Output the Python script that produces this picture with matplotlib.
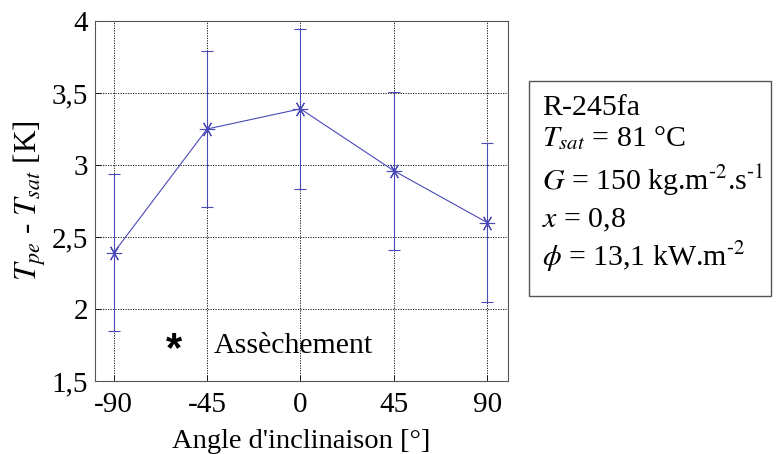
import numpy as np
import matplotlib
matplotlib.use('Agg')
import matplotlib.pyplot as plt
from matplotlib.patches import Rectangle

plt.rcParams['font.family'] = ['Liberation Serif', 'DejaVu Serif']
plt.rcParams['mathtext.fontset'] = 'stix'

# data
angles = [-90, -45, 0, 45, 90]
delta_t = [2.39, 3.25, 3.39, 2.96, 2.60]
err = [0.545, 0.545, 0.555, 0.55, 0.55]
xticks = [-90, -45, 0, 45, 90]
yticks = [1.5, 2, 2.5, 3, 3.5, 4]
ytick_labels = ['1,5', '2', '2,5', '3', '3,5', '4']
info_lines = ['R-245fa',
              r'$T_{sat}$ = 81 °C',
              '$G$ = 150 kg.m$^{\u2010 2}$.s$^{\u2010 1}$',
              r'$x$ = 0,8',
              '$\\phi$ = 13,1 kW.m$^{\u2010 2}$']
info_baselines = [115, 146, 190, 227, 266]

line_color = '#4a4ab8'
W, H = 776, 454

fig = plt.figure(figsize=(7.76, 4.54), dpi=100)
ax = fig.add_axes([95 / W, 1 - 381 / H, 413 / W, 360 / H])

ax.errorbar(angles, delta_t, yerr=err, color=line_color, lw=0.8,
            elinewidth=0.8, capsize=4, capthick=0.8,
            marker=(6, 2, 90), markersize=11, mew=0.8, zorder=3)

ax.set_xlim(-99, 100)
ax.set_ylim(1.5, 4)
ax.set_xticks(xticks)
ax.set_xticklabels([str(a) for a in xticks])
ax.set_yticks(yticks)
ax.set_yticklabels(ytick_labels)
ax.tick_params(labelsize=21, direction='in', length=4, width=0.6)
ax.tick_params(axis='x', pad=8)
ax.tick_params(axis='y', pad=5)
ax.grid(True, linestyle=(0, (1.5, 1.5)), color='black', lw=0.6)
for s in ax.spines.values():
    s.set_linewidth(0.8)
    s.set_color('#555555')

ax.set_xlabel("Angle d'inclinaison [°]", fontsize=20.5, labelpad=8)
ax.set_ylabel(r'$T_{pe}$ - $T_{sat}$ [K]', fontsize=22.5, labelpad=2)

# drying annotation
ax.text(-61, 1.715, '*', fontsize=30, fontweight='bold', family='Liberation Sans',
        ha='center', va='center')
ax.text(-42, 1.745, 'Assèchement', fontsize=21.5, va='center', ha='left')

# info box
fig.patches.append(Rectangle((529 / W, 1 - 296 / H), 242 / W, 215 / H,
                             transform=fig.transFigure, fc='white',
                             ec='#555555', lw=1.0))
for txt, yb in zip(info_lines, info_baselines):
    fig.text(542 / W, 1 - yb / H, txt, fontsize=21.5, va='baseline', ha='left')

fig.savefig('out.png', dpi=100)
